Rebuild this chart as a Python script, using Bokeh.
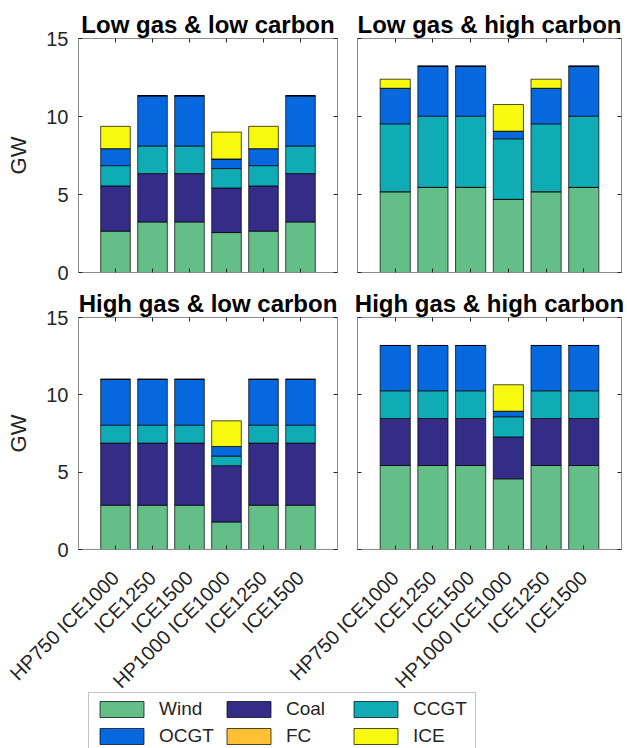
import math
from bokeh.plotting import figure
from bokeh.layouts import column, row
from bokeh.models import (ColumnDataSource, FixedTicker, LinearAxis, Range1d,
                          Legend, LegendItem)
from bokeh.embed import file_html
from bokeh.resources import INLINE

# ---------------- data ----------------
scenarios = ["HP750 ICE1000", "ICE1250", "ICE1500", "HP1000 ICE1000", "ICE1250", "ICE1500"]
x_pos = [1, 2, 3, 4, 5, 6]
techs = ["Wind", "Coal", "CCGT", "OCGT", "FC", "ICE"]
tech_colors = ["#64BE87", "#352C87", "#10ACB5", "#0568DF", "#FFC133", "#F7FA0E"]

# Low gas & low carbon
ll_wind = [2.65, 3.24, 3.24, 2.56, 2.65, 3.24]
ll_coal = [2.90, 3.10, 3.10, 2.86, 2.90, 3.10]
ll_ccgt = [1.30, 1.77, 1.77, 1.24, 1.30, 1.77]
ll_ocgt = [1.09, 3.22, 3.22, 0.62, 1.09, 3.22]
ll_fc = [0, 0, 0, 0, 0, 0]
ll_ice = [1.43, 0, 0, 1.72, 1.43, 0]

# Low gas & high carbon
lh_wind = [5.18, 5.46, 5.46, 4.69, 5.18, 5.46]
lh_coal = [0, 0, 0, 0, 0, 0]
lh_ccgt = [4.35, 4.56, 4.56, 3.88, 4.35, 4.56]
lh_ocgt = [2.28, 3.20, 3.20, 0.49, 2.28, 3.20]
lh_fc = [0, 0, 0, 0, 0, 0]
lh_ice = [0.58, 0, 0, 1.71, 0.58, 0]

# High gas & low carbon
hl_wind = [2.86, 2.86, 2.86, 1.78, 2.86, 2.86]
hl_coal = [4.02, 4.02, 4.02, 3.64, 4.02, 4.02]
hl_ccgt = [1.16, 1.16, 1.16, 0.62, 1.16, 1.16]
hl_ocgt = [2.96, 2.96, 2.96, 0.62, 2.96, 2.96]
hl_fc = [0, 0, 0, 0, 0, 0]
hl_ice = [0, 0, 0, 1.66, 0, 0]

# High gas & high carbon
hh_wind = [5.43, 5.43, 5.43, 4.57, 5.43, 5.43]
hh_coal = [3.04, 3.04, 3.04, 2.71, 3.04, 3.04]
hh_ccgt = [1.79, 1.79, 1.79, 1.30, 1.79, 1.79]
hh_ocgt = [2.93, 2.93, 2.93, 0.36, 2.93, 2.93]
hh_fc = [0, 0, 0, 0, 0, 0]
hh_ice = [0, 0, 0, 1.71, 0, 0]

y_ticks = [0, 5, 10, 15]

FONT = "Liberation Sans"
AX_COL = "#262626"
FRAME_COL = "#8C8C8C"


def panel(title, series, left, bottom_labels, width, height, bl, bt, bb, br):
    p = figure(width=width, height=height, output_backend="svg", toolbar_location=None,
               x_range=Range1d(0, 7), y_range=Range1d(0, 15),
               min_border_left=bl, min_border_top=bt, min_border_bottom=bb,
               min_border_right=br, x_axis_type=None, y_axis_type=None)
    p.grid.visible = False
    p.outline_line_color = FRAME_COL
    p.outline_line_width = 1
    p.background_fill_alpha = 0
    p.border_fill_alpha = 0
    p.title.text = title
    p.title.text_font = FONT
    p.title.text_font_size = "24px"
    p.title.text_font_style = "bold"
    p.title.text_color = "black"
    p.title.align = "center"
    p.title.standoff = 2

    data = {"x": x_pos}
    for t, s in zip(techs, series):
        data[t] = s
    src = ColumnDataSource(data)
    p.vbar_stack(techs, x="x", width=0.8, source=src, color=tech_colors,
                 line_color="black", line_width=1, line_alpha=0.7)

    def style(ax, labels):
        ax.axis_line_color = FRAME_COL
        ax.major_tick_line_color = AX_COL
        ax.major_tick_in = 4
        ax.major_tick_out = 0
        ax.minor_tick_line_color = None
        ax.major_label_text_font = FONT
        if labels:
            ax.major_label_text_font_size = "20px"
            ax.major_label_text_color = AX_COL
        else:
            ax.major_label_text_font_size = "0px"
            ax.major_label_text_color = None
            ax.major_label_standoff = 0

    xa = LinearAxis(ticker=FixedTicker(ticks=x_pos))
    style(xa, bottom_labels)
    if bottom_labels:
        xa.major_label_overrides = {x: s for x, s in zip(x_pos, scenarios)}
        xa.major_label_orientation = math.pi / 4
        xa.major_label_standoff = 25
    p.add_layout(xa, "below")

    ya = LinearAxis(ticker=FixedTicker(ticks=y_ticks))
    style(ya, left)
    if left:
        ya.axis_label = "GW"
        ya.axis_label_text_font = FONT
        ya.axis_label_text_font_size = "22px"
        ya.axis_label_text_font_style = "normal"
        ya.axis_label_text_color = AX_COL
        ya.axis_label_standoff = 12
        ya.major_label_standoff = 10
    p.add_layout(ya, "left")

    ta = LinearAxis(ticker=FixedTicker(ticks=x_pos))
    style(ta, False)
    ta.axis_line_color = None
    p.add_layout(ta, "above")
    ra = LinearAxis(ticker=FixedTicker(ticks=y_ticks))
    style(ra, False)
    ra.axis_line_color = None
    p.add_layout(ra, "right")
    return p


p_ll = panel("Low gas & low carbon",
             [ll_wind, ll_coal, ll_ccgt, ll_ocgt, ll_fc, ll_ice],
             True, False, 345, 285, 78, 38, 13, 8)
p_lh = panel("Low gas & high carbon",
             [lh_wind, lh_coal, lh_ccgt, lh_ocgt, lh_fc, lh_ice],
             False, False, 282, 285, 12, 38, 13, 6)
p_hl = panel("High gas & low carbon",
             [hl_wind, hl_coal, hl_ccgt, hl_ocgt, hl_fc, hl_ice],
             True, True, 345, 418, 78, 32, 154, 8)
p_hh = panel("High gas & high carbon",
             [hh_wind, hh_coal, hh_ccgt, hh_ocgt, hh_fc, hh_ice],
             False, True, 402, 418, 132, 32, 154, 6)
p_hh.margin = (0, 0, 0, -120)

# legend figure
lg = figure(width=627, height=58, output_backend="svg", toolbar_location=None,
            x_range=Range1d(0, 1), y_range=Range1d(0, 1),
            x_axis_type=None, y_axis_type=None, min_border=0)
lg.grid.visible = False
lg.outline_line_color = None
lg.background_fill_alpha = 0
lg.border_fill_alpha = 0
lg.margin = (-13, 0, 0, 0)
items = []
for t, c in zip(techs, tech_colors):
    r = lg.vbar(x=[5], top=[5], width=0.5, fill_color=c, line_color="black",
                line_width=1, line_alpha=0.7)
    items.append(LegendItem(label=t, renderers=[r]))
leg = Legend(items=items, ncols=3, orientation="horizontal", location=(88, -5),
             label_text_font=FONT, label_text_font_size="19px",
             label_text_color=AX_COL, glyph_width=55, glyph_height=20,
             label_height=20, spacing=5, label_standoff=10, padding=5, margin=0,
             border_line_color=FRAME_COL, border_line_width=1,
             label_width=57)
lg.add_layout(leg, "center")

layout = column(row(p_ll, p_lh), row(p_hl, p_hh), lg, spacing=0)
open("out.html", "w").write(file_html(layout, INLINE))
